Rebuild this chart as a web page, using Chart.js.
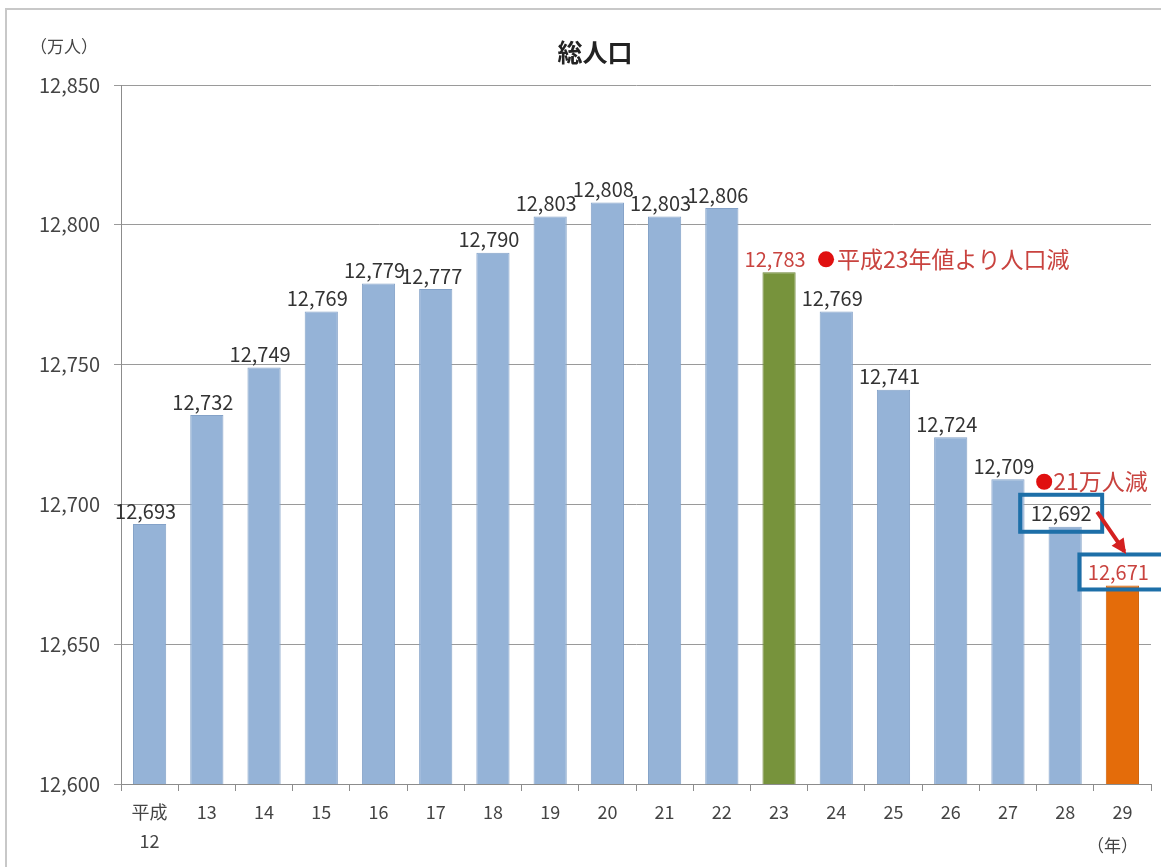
<!DOCTYPE html>
<html>
<head>
<meta charset="utf-8">
<script src="https://cdn.jsdelivr.net/npm/chart.js@4.4.1/dist/chart.umd.min.js"></script>
<style>
  html, body { margin: 0; padding: 0; background: #fff; }
  #wrap { position: relative; width: 1161px; height: 867px; overflow: hidden; }
  #frame { position: absolute; left: 5px; top: 8px; width: 1200px; height: 900px;
           border-left: 2px solid #c8c8c8; border-top: 2px solid #c8c8c8; }
  canvas { position: absolute; left: 0; top: 0; }
</style>
</head>
<body>
<div id="wrap">
  <div id="frame"></div>
  <canvas id="popChart" width="1161" height="867"></canvas>
</div>
<script>
// 総人口（万人）平成12年〜29年
const years = [['平成', '12'], '13', '14', '15', '16', '17', '18', '19', '20',
               '21', '22', '23', '24', '25', '26', '27', '28', '29'];
const population = [12693, 12732, 12749, 12769, 12779, 12777, 12790, 12803, 12808,
                    12803, 12806, 12783, 12769, 12741, 12724, 12709, 12692, 12671];
const yTicks = [12600, 12650, 12700, 12750, 12800, 12850];

const baseIdx = 11;   // 平成23
const prevIdx = 16;   // 平成28
const lastIdx = 17;   // 平成29

const FONT = '"Noto Sans CJK JP", "Noto Sans", sans-serif';
const BLUE = '#95b3d7';
const GREEN = '#77933c';
const ORANGE = '#e46c0a';
const RED_TEXT = '#c9433f';
const RED = '#e01010';
const BOX = '#1d6fa8';

const fmt = v => v.toLocaleString('en-US');

const barColors = population.map((v, i) => i === baseIdx ? GREEN : i === lastIdx ? ORANGE : BLUE);
const borderColors = population.map((v, i) => i === baseIdx ? '#6a8434' : i === lastIdx ? '#d0620a' : '#84a2c8');

function labelPos(chart, i) {
  const x = chart.scales.x.getPixelForValue(i);
  const y = chart.scales.y.getPixelForValue(population[i]);
  return { x: x - 4, y: y - 13 };
}

const annotate = {
  id: 'annotate',
  afterDatasetsDraw(chart) {
    const ctx = chart.ctx;
    ctx.save();

    // value labels
    ctx.font = '20px ' + FONT;
    ctx.textAlign = 'center';
    ctx.textBaseline = 'middle';
    population.forEach((v, i) => {
      const p = labelPos(chart, i);
      ctx.fillStyle = (i === baseIdx || i === lastIdx) ? RED_TEXT : '#333';
      ctx.fillText(fmt(v), p.x, p.y);
    });

    // ●平成23年値より人口減
    const b = labelPos(chart, baseIdx);
    ctx.fillStyle = RED;
    ctx.beginPath();
    ctx.arc(b.x + 51, b.y, 8, 0, Math.PI * 2);
    ctx.fill();
    ctx.fillStyle = RED_TEXT;
    ctx.font = '23px ' + FONT;
    ctx.textAlign = 'left';
    ctx.fillText('平成23年値より人口減', b.x + 62, b.y);

    // ●21万人減
    const p1 = labelPos(chart, prevIdx);
    const p2 = labelPos(chart, lastIdx);
    ctx.fillStyle = RED;
    ctx.beginPath();
    ctx.arc(p1.x - 17, p1.y - 32, 8, 0, Math.PI * 2);
    ctx.fill();
    ctx.fillStyle = RED_TEXT;
    ctx.fillText('21万人減', p1.x - 8, p1.y - 33);

    // boxes around the last two values
    ctx.strokeStyle = BOX;
    ctx.lineWidth = 4;
    ctx.strokeRect(p1.x - 41, p1.y - 19, 82, 37);
    ctx.strokeRect(p2.x - 39, p2.y - 18, 84, 35);

    // arrow between them
    const ax0 = p1.x + 36, ay0 = p1.y - 2;
    const ax1 = p2.x + 6, ay1 = p2.y - 21;
    ctx.strokeStyle = '#d42020';
    ctx.fillStyle = '#d42020';
    ctx.lineWidth = 4;
    ctx.beginPath();
    ctx.moveTo(ax0, ay0);
    ctx.lineTo(ax1, ay1);
    ctx.stroke();
    const ang = Math.atan2(ay1 - ay0, ax1 - ax0);
    ctx.beginPath();
    ctx.moveTo(ax1 + 3 * Math.cos(ang), ay1 + 3 * Math.sin(ang));
    ctx.lineTo(ax1 - 14 * Math.cos(ang - 0.55), ay1 - 14 * Math.sin(ang - 0.55));
    ctx.lineTo(ax1 - 14 * Math.cos(ang + 0.55), ay1 - 14 * Math.sin(ang + 0.55));
    ctx.closePath();
    ctx.fill();

    // title and units
    ctx.fillStyle = '#222';
    ctx.textAlign = 'center';
    ctx.font = 'bold 25px ' + FONT;
    ctx.fillText('総人口', 595, 52);
    ctx.fillStyle = '#444';
    ctx.font = '17px ' + FONT;
    ctx.fillText('（万人）', 64, 47);
    ctx.fillText('（年）', chart.scales.x.getPixelForValue(lastIdx) - 10, 846);

    ctx.restore();
  }
};

const ctx = document.getElementById('popChart').getContext('2d');
new Chart(ctx, {
  type: 'bar',
  data: {
    labels: years,
    datasets: [{
      label: '総人口',
      data: population,
      backgroundColor: barColors,
      borderColor: borderColors,
      borderWidth: 1,
      barPercentage: 0.58,
      categoryPercentage: 1.0
    }]
  },
  options: {
    responsive: false,
    animation: false,
    layout: { padding: { top: 85, right: 10, left: 0, bottom: 0 } },
    plugins: {
      legend: { display: false },
      tooltip: { enabled: false }
    },
    scales: {
      x: {
        grid: { drawOnChartArea: false, offset: true, tickLength: 7, color: '#8c8c8c' },
        border: { display: true, color: '#8c8c8c' },
        ticks: {
          color: '#444',
          padding: 7,
          maxRotation: 0,
          autoSkip: false,
          font: { family: FONT, size: 18, lineHeight: '29px' }
        },
        afterFit: s => { s.height = 83; }
      },
      y: {
        min: yTicks[0],
        max: yTicks[yTicks.length - 1],
        afterBuildTicks: s => { s.ticks = yTicks.map(v => ({ value: v })); },
        grid: { color: '#9a9a9a', tickLength: 7 },
        border: { display: true, color: '#8c8c8c' },
        ticks: {
          color: '#444',
          padding: 14,
          callback: v => fmt(v),
          font: { family: FONT, size: 20 }
        },
        afterFit: s => { s.width = 121; }
      }
    }
  },
  plugins: [annotate]
});
</script>
</body>
</html>
